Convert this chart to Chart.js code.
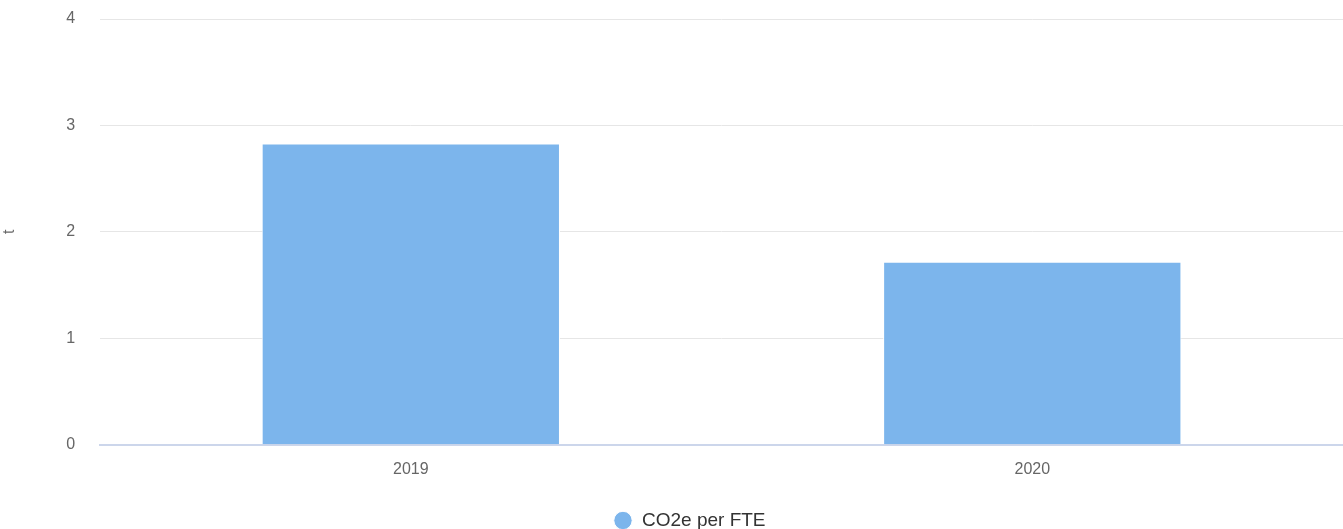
<!DOCTYPE html>
<html>
<head>
  <meta charset="UTF-8" />
  <title>CO2e per FTE</title>
  <script src="https://cdn.jsdelivr.net/npm/chart.js"></script>
  <style>
    body { margin: 0; background: #fff; }
    #wrap { width: 1343px; height: 529px; }
  </style>
</head>
<body>
  <div id="wrap"><canvas id="co2Chart" width="1343" height="529"></canvas></div>

  <script>
    const years = ['2019', '2020'];
    const co2PerFte = [2.83, 1.72];
    const yTicks = [0, 1, 2, 3, 4];

    // nudge the legend a bit right, like the original
    const legendShift = {
      id: 'legendShift',
      afterLayout(chart) {
        chart.legend.left += 18;
        chart.legend.right += 18;
      }
    };

    new Chart(document.getElementById('co2Chart'), {
      type: 'bar',
      data: {
        labels: years,
        datasets: [{
          label: 'CO2e per FTE',
          data: co2PerFte,
          backgroundColor: '#7cb5ec',
          borderColor: '#ffffff',
          borderWidth: 1,
          barPercentage: 0.48,
          categoryPercentage: 1
        }]
      },
      options: {
        responsive: false,
        animation: false,
        layout: { padding: { top: 19, right: 0, left: 0, bottom: -11 } },
        plugins: {
          tooltip: { enabled: false },
          legend: {
            position: 'bottom',
            labels: {
              usePointStyle: true,
              pointStyle: 'circle',
              boxWidth: 19,
              boxHeight: 13,
              padding: 2,
              color: '#333333',
              font: { family: '"Liberation Sans", Arial, sans-serif', size: 19 }
            }
          }
        },
        scales: {
          x: {
            grid: { display: false },
            border: { display: true, color: '#ccd6eb', width: 2 },
            afterFit: (axis) => { axis.height += 23; },
            ticks: {
              color: '#666666',
              padding: 7,
              font: { family: '"Liberation Sans", Arial, sans-serif', size: 16 }
            }
          },
          y: {
            min: 0,
            max: 4,
            afterBuildTicks: (axis) => { axis.ticks = yTicks.map(v => ({ value: v })); },
            grid: { color: '#e6e6e6', drawTicks: true, tickLength: 25, tickColor: 'rgba(0,0,0,0)' },
            border: { display: false },
            title: {
              display: true,
              text: 't',
              color: '#666666',
              padding: { top: 0, bottom: 47 },
              font: { family: '"Liberation Sans", Arial, sans-serif', size: 16 }
            },
            ticks: {
              color: '#666666',
              padding: 0,
              font: { family: '"Liberation Sans", Arial, sans-serif', size: 16 }
            }
          }
        }
      },
      plugins: [legendShift]
    });
  </script>
</body>
</html>
